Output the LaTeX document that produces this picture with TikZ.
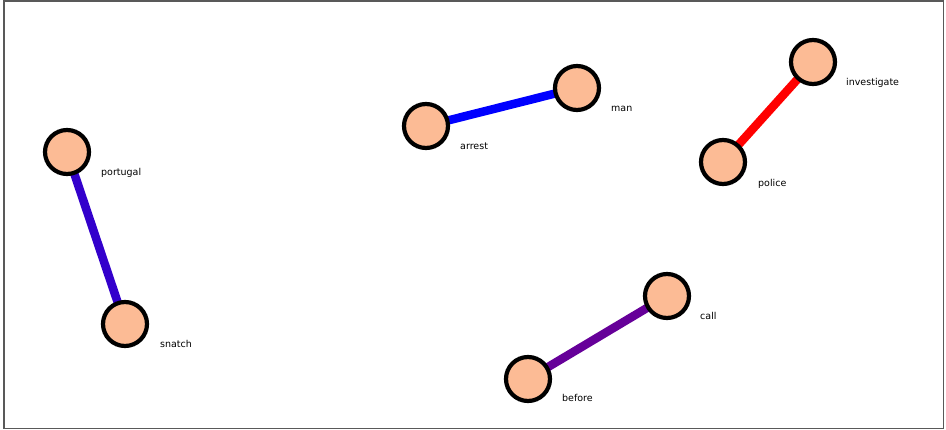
\documentclass[tikz,border=0pt]{standalone}
\usepackage{fontspec}
\setsansfont{DejaVu Sans}
\usetikzlibrary{backgrounds}
\definecolor{termfill}{RGB}{252,187,149}
\definecolor{linkviolet}{RGB}{51,0,204}
\definecolor{linkblue}{RGB}{0,0,255}
\definecolor{linkred}{RGB}{255,0,0}
\definecolor{linkpurple}{RGB}{102,0,153}
\tikzset{
	term/.style={circle, draw=black, line width=4.2pt, fill=termfill, minimum size=44pt, inner sep=0pt},
	termlabel/.style={anchor=base west, inner sep=0pt, font=\sffamily\fontsize{9.5}{11}\selectfont},
	link/.style={line width=8.5pt}
}

\begin{document}
\begin{tikzpicture}[x=1pt, y=-1pt]
			%%%%% START %%%%%
			
			\useasboundingbox (0, 0) rectangle (946, 430);
			\draw[line width=1.5pt, color=black!65] (4, 1) rectangle (943.5, 428.5);
			
			\node[term] (portugal) at (67, 152) {};
			\node[term] (snatch) at (125, 324) {};
			\node[term] (arrest) at (426, 126) {};
			\node[term] (man) at (577, 88) {};
			\node[term] (police) at (723, 162) {};
			\node[term] (investigate) at (813, 62) {};
			\node[term] (call) at (667, 296) {};
			\node[term] (before) at (528, 379) {};
			
			\node[termlabel] (portugal-l) at (101, 176) {portugal};
			\node[termlabel] (snatch-l) at (160, 348) {snatch};
			\node[termlabel] (arrest-l) at (460, 150) {arrest};
			\node[termlabel] (man-l) at (611, 112) {man};
			\node[termlabel] (police-l) at (758, 187) {police};
			\node[termlabel] (investigate-l) at (846, 86) {investigate};
			\node[termlabel] (call-l) at (700, 320) {call};
			\node[termlabel] (before-l) at (562, 402) {before};
			
			\begin{scope}[on background layer]
				\draw[link, color=linkviolet] (portugal.center) -- (snatch.center);
				\draw[link, color=linkblue] (arrest.center) -- (man.center);
				\draw[link, color=linkred] (police.center) -- (investigate.center);
				\draw[link, color=linkpurple] (before.center) -- (call.center);
			\end{scope}
			
			%%%%% END %%%%%
		\end{tikzpicture}
\end{document}
